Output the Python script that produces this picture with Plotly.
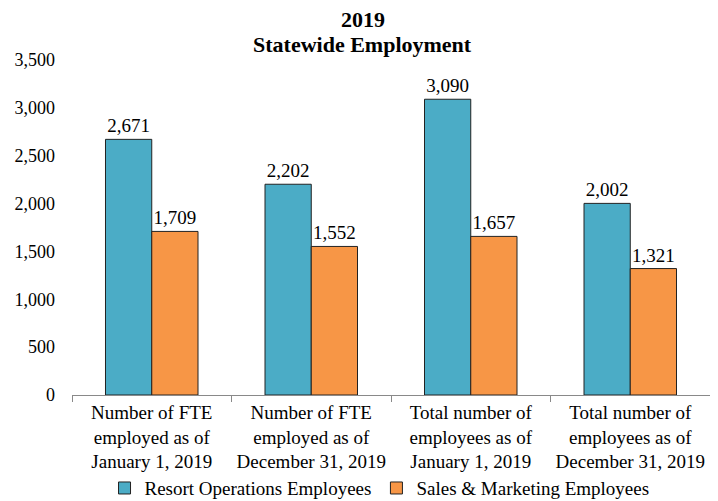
import plotly.graph_objects as go

categories = ["Number of FTE<br>employed as of<br>January 1, 2019",
              "Number of FTE<br>employed as of<br>December 31, 2019",
              "Total number of<br>employees as of<br>January 1, 2019",
              "Total number of<br>employees as of<br>December 31, 2019"]
resort = [2671, 2202, 3090, 2002]
sales = [1709, 1552, 1657, 1321]
ytick_vals = [0, 500, 1000, 1500, 2000, 2500, 3000, 3500]
ytick_text = ["0", "500", "1,000", "1,500", "2,000", "2,500", "3,000", "3,500"]
title_lines = ["2019", "Statewide Employment"]

FONT = "Liberation Serif, Times New Roman, serif"
FS = 19

fig = go.Figure()
fig.add_bar(x=categories, y=resort, name="Resort Operations Employees",
            marker=dict(color="#4BACC6", line=dict(color="#222222", width=1)),
            text=[f"{v:,}" for v in resort], textposition="outside",
            textfont=dict(family=FONT, size=FS, color="black"), cliponaxis=False)
fig.add_bar(x=categories, y=sales, name="Sales & Marketing Employees",
            marker=dict(color="#F79646", line=dict(color="#222222", width=1)),
            text=[f"{v:,}" for v in sales], textposition="outside",
            textfont=dict(family=FONT, size=FS, color="black"), cliponaxis=False)

# page body has an 8px margin, so the figure is sized to 710x493
fig.add_annotation(text=f"<b>{title_lines[0]}</b>", xref="paper", yref="paper",
                   x=0.456, y=1.122, xanchor="center", yanchor="middle",
                   height=20, borderpad=0,
                   showarrow=False, font=dict(family=FONT, size=22))
fig.add_annotation(text=f"<b>{title_lines[1]}</b>", xref="paper", yref="paper",
                   x=0.456, y=1.045, xanchor="center", yanchor="middle",
                   showarrow=False, font=dict(family=FONT, size=22))

fig.update_layout(
    width=710, height=493,
    margin=dict(l=64, r=8, t=52, b=106, autoexpand=False),
    paper_bgcolor="white", plot_bgcolor="white",
    font=dict(family=FONT, size=FS, color="black"),
    barmode="group", bargap=0.42, bargroupgap=0,
    showlegend=True,
    legend=dict(orientation="h", x=0.482, xanchor="center", yref="paper",
                y=-0.278, yanchor="middle", bgcolor="rgba(0,0,0,0)",
                font=dict(family=FONT, size=FS), itemwidth=30),
    yaxis=dict(range=[0, 3500], tickvals=ytick_vals, ticktext=ytick_text,
               showgrid=False, zeroline=False, showline=False, ticks="",
               ticklabelstandoff=16, automargin=False,
               tickfont=dict(family=FONT, size=18)),
    xaxis=dict(showline=True, linecolor="#898989", linewidth=1, ticks="outside",
               tickson="boundaries", ticklen=6, tickcolor="#898989", automargin=False,
               tickfont=dict(family=FONT, size=FS)),
)

fig.write_html("out.html")
